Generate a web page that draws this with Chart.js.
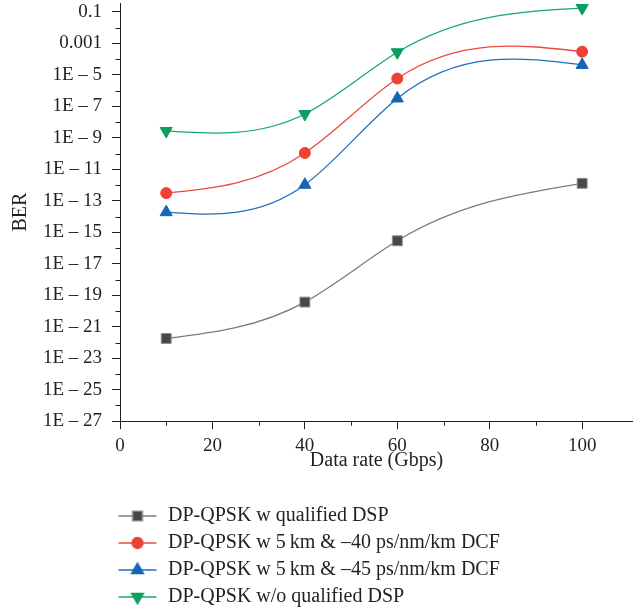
<!DOCTYPE html>
<html>
<head>
<meta charset="utf-8">
<script src="https://cdn.jsdelivr.net/npm/chart.js@4.4.1/dist/chart.umd.min.js"></script>
<style>
html, body { margin: 0; padding: 0; background: #ffffff; }
#wrap { width: 633px; height: 614px; }
</style>
</head>
<body>
<div id="wrap"><canvas id="c" width="633" height="614"></canvas></div>
<script>
// ---- data ----
const dataRates = [10, 40, 60, 100];
const berQualifiedDsp = [1.8e-22, 3.7e-20, 2.9e-16, 1.3e-12];
const berDcf40 = [3.1e-13, 1.1e-10, 5.9e-6, 3.0e-4];
const berDcf45 = [1.9e-14, 1.05e-12, 3.2e-7, 4.3e-5];
const berNoDsp = [2.75e-9, 3.3e-8, 2.75e-4, 0.178];
const seriesLabels = [
  'DP-QPSK w qualified DSP',
  'DP-QPSK w 5\u2009km & \u201340 ps/nm/km DCF',
  'DP-QPSK w 5\u2009km & \u201345 ps/nm/km DCF',
  'DP-QPSK w/o qualified DSP'
];
const xTickValues = [0, 20, 40, 60, 80, 100];
const xMinorValues = [10, 30, 50, 70, 90];
const yTickExponents = [-27, -25, -23, -21, -19, -17, -15, -13, -11, -9, -7, -5, -3, -1];
const yMinorExponents = [-26, -24, -22, -20, -18, -16, -14, -12, -10, -8, -6, -4, -2];
const xTitle = 'Data rate (Gbps)';
const yTitle = 'BER';

// ---- styles ----
const FONT = "'Liberation Serif', 'Times New Roman', serif";
const INK = '#231f20';
const styles = [
  { line: '#7b7b7b', fill: '#45484b', border: '#8c8c8c', pointStyle: 'rect', radius: 7, rotation: 0 },
  { line: '#eb4a40', fill: '#ee4035', border: '#ee4035', pointStyle: 'circle', radius: 5.5, rotation: 0 },
  { line: '#1f6fbd', fill: '#1565b5', border: '#1565b5', pointStyle: 'triangle', radius: 7, rotation: 0 },
  { line: '#16a86b', fill: '#0a9f5f', border: '#0a9f5f', pointStyle: 'triangle', radius: 7, rotation: 180 }
];
const seriesValues = [berQualifiedDsp, berDcf40, berDcf45, berNoDsp];

function makeSymbol(st) {
  const cv = document.createElement('canvas');
  cv.width = 40; cv.height = 16;
  const g = cv.getContext('2d');
  g.strokeStyle = st.line; g.lineWidth = 1.3;
  g.beginPath(); g.moveTo(1, 8); g.lineTo(39, 8); g.stroke();
  g.fillStyle = st.fill; g.strokeStyle = st.border;
  Chart.helpers.drawPoint(g, { pointStyle: st.pointStyle, rotation: st.rotation, radius: st.radius, borderWidth: 1 }, 20, 8);
  return cv;
}
const symbols = styles.map(makeSymbol);

// natural cubic spline through the points (in pixel space), like Origin's spline connector
const naturalSpline = {
  id: 'naturalSpline',
  beforeDatasetDraw(chart, args) {
    const meta = args.meta;
    const pts = meta.data;
    const n = pts.length;
    if (n < 3) return;
    const x = pts.map(p => p.x), y = pts.map(p => p.y);
    const h = [];
    for (let i = 0; i < n - 1; i++) h.push(x[i + 1] - x[i]);
    const a = [], b = [], c = [], d = [];
    for (let i = 1; i < n - 1; i++) {
      a.push(h[i - 1]); b.push(2 * (h[i - 1] + h[i])); c.push(h[i]);
      d.push(6 * ((y[i + 1] - y[i]) / h[i] - (y[i] - y[i - 1]) / h[i - 1]));
    }
    const m = b.length;
    for (let i = 1; i < m; i++) {
      const w = a[i] / b[i - 1];
      b[i] -= w * c[i - 1]; d[i] -= w * d[i - 1];
    }
    const sol = new Array(m);
    sol[m - 1] = d[m - 1] / b[m - 1];
    for (let i = m - 2; i >= 0; i--) sol[i] = (d[i] - c[i] * sol[i + 1]) / b[i];
    const M = new Array(n).fill(0);
    for (let i = 0; i < m; i++) M[i + 1] = sol[i];
    pts[0].cp1x = x[0]; pts[0].cp1y = y[0];
    pts[n - 1].cp2x = x[n - 1]; pts[n - 1].cp2y = y[n - 1];
    for (let i = 0; i < n - 1; i++) {
      const hh = h[i];
      const s = (y[i + 1] - y[i]) / hh;
      const d0 = s - hh * (2 * M[i] + M[i + 1]) / 6;
      const d1 = s + hh * (M[i] + 2 * M[i + 1]) / 6;
      pts[i].cp2x = x[i] + hh / 3; pts[i].cp2y = y[i] + d0 * hh / 3;
      pts[i + 1].cp1x = x[i + 1] - hh / 3; pts[i + 1].cp1y = y[i + 1] - d1 * hh / 3;
    }
    meta.dataset._pointsUpdated = true;
  }
};

const minorTicks = {
  id: 'minorTicks',
  afterDraw(chart) {
    const { ctx, chartArea: area } = chart;
    const xs = chart.scales.x, ys = chart.scales.y;
    ctx.save();
    ctx.strokeStyle = INK; ctx.lineWidth = 1;
    ctx.beginPath();
    xMinorValues.forEach(v => {
      const px = Math.round(xs.getPixelForValue(v)) + 0.5;
      ctx.moveTo(px, area.bottom); ctx.lineTo(px, area.bottom + 4.5);
    });
    yMinorExponents.forEach(e => {
      const py = Math.round(ys.getPixelForValue(Math.pow(10, e))) + 0.5;
      ctx.moveTo(area.left, py); ctx.lineTo(area.left - 4.5, py);
    });
    ctx.stroke();
    ctx.restore();
  }
};

const legendPlace = {
  id: 'legendPlace',
  afterLayout(chart) {
    const lg = chart.legend;
    if (!lg) return;
    lg.left = 110;
    lg.top = 499;
    lg.bottom = 614;
    lg.right = 633;
  }
};

const datasets = seriesValues.map((vals, i) => ({
  label: seriesLabels[i],
  data: dataRates.map((r, k) => ({ x: r, y: vals[k] })),
  borderColor: styles[i].line,
  borderWidth: 1.3,
  backgroundColor: styles[i].fill,
  pointBackgroundColor: styles[i].fill,
  pointBorderColor: styles[i].border,
  pointBorderWidth: 1,
  pointStyle: styles[i].pointStyle,
  pointRotation: styles[i].rotation,
  pointRadius: styles[i].radius,
  pointHoverRadius: styles[i].radius,
  tension: 0.4,
  fill: false,
  clip: false
}));

new Chart(document.getElementById('c'), {
  type: 'line',
  data: { datasets },
  plugins: [naturalSpline, minorTicks, legendPlace],
  options: {
    responsive: false,
    animation: false,
    events: [],
    layout: { autoPadding: false, padding: { top: 3, left: 0, right: 0, bottom: 23 } },
    scales: {
      x: {
        type: 'linear',
        min: 0,
        max: 111,
        afterBuildTicks: s => { s.ticks = xTickValues.map(v => ({ value: v })); },
        ticks: { color: INK, padding: 5, font: { family: FONT, size: 19 }, maxRotation: 0, autoSkip: false },
        grid: { display: true, drawOnChartArea: false, drawTicks: true, tickLength: 8, tickColor: INK },
        border: { display: true, color: INK, width: 1 },
        title: { display: true, text: xTitle, color: INK, font: { family: FONT, size: 20 }, padding: { top: -13, bottom: 0 } }
      },
      y: {
        type: 'logarithmic',
        min: 1e-27,
        max: Math.pow(10, -0.43),
        afterBuildTicks: s => { s.ticks = yTickExponents.map(e => ({ value: Math.pow(10, e) })); },
        afterFit: s => { s.width = 120; s.paddingTop = 0; s.paddingBottom = 0; },
        ticks: {
          color: INK, padding: 10, font: { family: FONT, size: 19 }, autoSkip: false,
          callback: v => {
            const e = Math.round(Math.log10(v));
            if (e === -1) return '0.1';
            if (e === -3) return '0.001';
            return '1E \u2013 ' + (-e);
          }
        },
        grid: { display: true, drawOnChartArea: false, drawTicks: true, tickLength: 8, tickColor: INK },
        border: { display: true, color: INK, width: 1 },
        title: { display: true, text: yTitle, color: INK, font: { family: FONT, size: 20 }, padding: { top: 9, bottom: 0 } }
      }
    },
    plugins: {
      tooltip: { enabled: false },
      legend: {
        display: true,
        position: 'bottom',
        align: 'start',
        labels: {
          usePointStyle: true,
          pointStyleWidth: 41,
          padding: 7,
          color: INK,
          font: { family: FONT, size: 20 },
          generateLabels: chart => chart.data.datasets.map((ds, i) => ({
            text: ds.label,
            pointStyle: symbols[i],
            datasetIndex: i,
            hidden: false,
            lineWidth: 0,
            fontColor: INK,
            strokeStyle: 'rgba(0,0,0,0)',
            fillStyle: 'rgba(0,0,0,0)'
          }))
        }
      }
    }
  }
});
</script>
</body>
</html>
